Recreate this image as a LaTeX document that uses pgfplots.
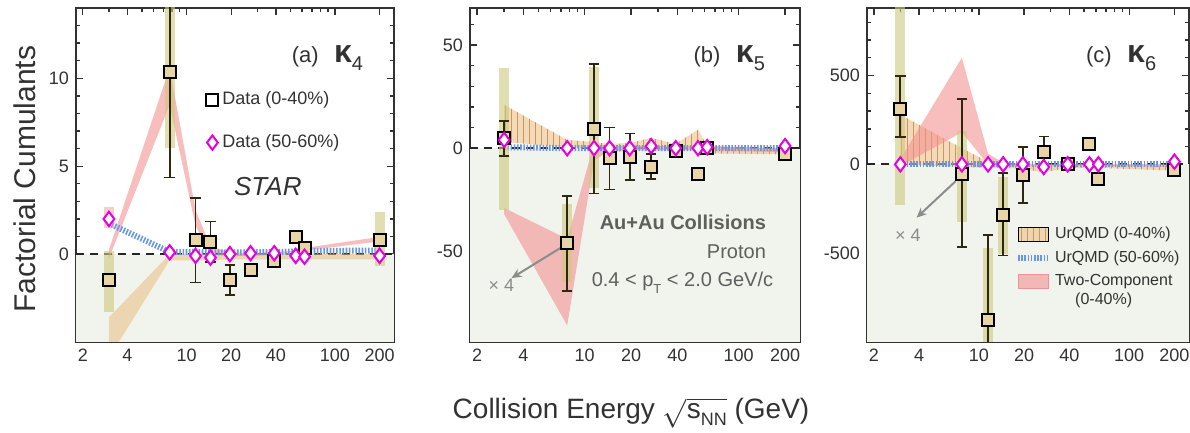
\documentclass[border=0pt]{standalone}
\usepackage{fontspec}
\setmainfont{Liberation Sans}
\usepackage{pgfplots}
\pgfplotsset{compat=1.18}
\usepackage{pgfplotstable}
\usetikzlibrary{patterns,arrows.meta}

\definecolor{txtc}{RGB}{50,50,50}
\definecolor{graytxt}{RGB}{95,95,95}
\definecolor{belowc}{RGB}{241,244,236}
\definecolor{tanc}{RGB}{232,188,130}
\definecolor{tanh}{RGB}{205,150,90}
\definecolor{pinkc}{RGB}{244,145,145}
\definecolor{bluec}{RGB}{105,150,230}
\definecolor{sysc}{RGB}{205,200,125}
\definecolor{sqfill}{RGB}{232,212,165}
\definecolor{errc}{RGB}{45,40,15}
\definecolor{magc}{RGB}{230,0,225}
\definecolor{arrc}{RGB}{140,140,140}

% ---------- kappa_4 ----------
\pgfplotstableread{
x y ep em
3 -1.47 0.3 0.3
7.7 10.36 6.0 6.0
11.5 0.79 2.4 2.4
14.5 0.70 1.15 1.15
19.6 -1.47 0.85 0.85
27 -0.9 0.35 0.35
39 -0.4 0.2 0.2
54.4 1.0 0.15 0.15
62.4 0.32 0.3 0.3
200 0.8 0.2 0.2
}\kAcen
\pgfplotstableread{
x y ep em
3 -1.47 1.67 1.83
7.7 10.36 6.0 4.3
200 0.8 1.6 1.5
}\kAsys
\pgfplotstableread{
x y
3 2.0
7.7 0.1
11.5 -0.1
14.5 -0.2
19.6 0.0
27 0.05
39 0.05
54.4 -0.1
62.4 -0.15
200 -0.1
}\kAper

% ---------- kappa_5 ----------
\pgfplotstableread{
x y ep em
3 4.7 8.5 8.5
7.7 -46.1 23 23
11.5 9.5 31.5 31.5
14.5 -5 15 15
19.6 -4.2 11.3 11.3
27 -9 6 6
39 -1.3 2 2
54.4 -12.3 1 1
62.4 0.3 2 2
200 -2.6 1.5 1.5
}\kBcen
\pgfplotstableread{
x y ep em
3 4.7 34 34.7
7.7 -46.1 19 19
11.5 9.5 30 29
}\kBsys
\pgfplotstableread{
x y
3 4
7.7 0
11.5 0
14.5 0
19.6 0
27 1
39 0
54.4 0
62.4 0.5
200 1
}\kBper

% ---------- kappa_6 ----------
\pgfplotstableread{
x y ep em
3 313 182 159
7.7 -55 424 410
11.5 -876 477 477
14.5 -287 236 226
19.6 -62 159 156
27 69 88 84
39 4 10 10
54.4 116 10 10
62.4 -80 15 15
200 -34 10 10
}\kCcen
\pgfplotstableread{
x y ep em
3 313 700 544
7.7 -55 245 269
11.5 -876 403 300
14.5 -287 217 219
}\kCsys
\pgfplotstableread{
x y
3 0
7.7 0
11.5 0
14.5 0
19.6 0
27 -15
39 0
54.4 0
62.4 0
200 15
}\kCper

\pgfplotsset{
  every axis/.append style={
    scale only axis, anchor=south west, height=167pt,
    axis line style={txtc, line width=0.9pt},
    tick style={txtc, line width=0.7pt},
    major tick length=3.6pt, minor tick length=2.2pt,
    tick align=inside,
    xtick={2,4,10,20,40,100,200}, xticklabels={2,4,10,20,40,100,200},
    minor xtick={3,5,6,7,8,9,30,50,60,70,80,90},
    ticklabel style={font=\fontsize{9}{9}\selectfont, text=txtc},
    legend style={draw=none, fill=none, text=txtc},
  },
  zeroline/.style={forget plot, black!85, line width=0.9pt, dash pattern=on 4pt off 3pt},
  tanband/.style={forget plot, draw=none, fill=tanc, fill opacity=0.55},
  tanhatch/.style={forget plot, draw=none, pattern=vertical lines, pattern color=tanh},
  pinkband/.style={forget plot, draw=none, fill=pinkc, fill opacity=0.6},
  blueline/.style={forget plot, bluec, line width=3pt, dash pattern=on 0.8pt off 0.8pt},
  sysbox/.style={forget plot, only marks, mark=none,
    error bars/.cd, y dir=both, y explicit,
    error bar style={line width=5pt, draw=sysc, draw opacity=0.6}, error mark=none},
  sqdata/.style={forget plot, only marks, mark=square*, mark size=3pt,
    mark options={draw=black, fill=sqfill, line width=1pt},
    error bars/.cd, y dir=both, y explicit,
    error bar style={errc, line width=0.9pt},
    error mark options={errc, line width=0.9pt, mark size=2.6pt, rotate=90}},
  perdata/.style={forget plot, only marks, mark=diamond*, mark size=3.6pt,
    mark options={draw=magc, fill=white, line width=1pt}},
}

\begin{document}
\begin{tikzpicture}
\path[use as bounding box] (0,0) rectangle (595pt,216.5pt);

% ================= (a) kappa_4 =================
\begin{axis}[at={(38pt,45.5pt)}, width=159pt,
  xmode=log, xmin=1.8, xmax=250,
  /pgf/number format/assume math mode=true,
  ymin=-5, ymax=14, ytick={0,5,10},
  minor ytick={-4,-3,-2,-1,1,2,3,4,6,7,8,9,11,12,13},
  legend style={at={(rel axis cs:0.39,0.775)}, anchor=north west,
    font=\fontsize{9}{9}\selectfont, row sep=9.5pt, legend cell align=left}]
\addlegendimage{only marks, mark=square, mark size=3pt, mark options={black, line width=1pt}}
\addlegendentry{Data (0-40\%)}
\addlegendimage{only marks, mark=diamond, mark size=3.6pt, mark options={magc, line width=1pt}}
\addlegendentry{Data (50-60\%)}
\addplot[forget plot, draw=none, fill=belowc] coordinates {(1.8,0) (250,0) (250,-5) (1.8,-5)};
\addplot[zeroline] coordinates {(1.8,0) (250,0)};
\addplot[tanband] coordinates {(3,-3.6) (7.7,0) (11.5,0) (14.5,0) (19.6,0) (27,0) (39,0) (54.4,0) (62.4,0) (200,0)
  (200,-0.3) (62.4,-0.3) (54.4,-0.3) (39,-0.3) (27,-0.3) (19.6,-0.3) (14.5,-0.35) (11.5,-0.35) (7.7,-0.35) (3,-5.9)};
\addplot[pinkband] coordinates {(3,0.25) (7.7,10.6) (11.5,2.5) (14.5,0.45) (19.6,0.1) (27,0.08) (39,0.1) (54.4,0.2) (62.4,0.35) (200,0.98)
  (200,0.72) (62.4,0.2) (54.4,0.05) (39,-0.05) (27,-0.1) (19.6,-0.1) (14.5,0.1) (11.5,1.6) (7.7,8.5) (3,-0.25)};
\addplot[blueline] coordinates {(3,1.75) (7.7,0.12) (11.5,0.12) (14.5,0.1) (19.6,0.1) (27,0.1) (39,0.12) (54.4,0.15) (62.4,0.18) (200,0.2)};
\addplot[sysbox] table[x=x, y=y, y error plus=ep, y error minus=em] {\kAsys};
\addplot[forget plot, only marks, mark=none, error bars/.cd, y dir=both, y explicit,
  error bar style={line width=5pt, draw=pinkc, draw opacity=0.45}, error mark=none]
  coordinates {(3,2.0) += (0,0.7) -= (0,0.5)};
\addplot[sqdata] table[x=x, y=y, y error plus=ep, y error minus=em] {\kAcen};
\addplot[perdata] table[x=x, y=y] {\kAper};
\node[anchor=east, text=txtc] at (rel axis cs:0.925,0.85)
  {\fontsize{11}{11}\selectfont (a)\hspace{0.7em}{\fontsize{16}{16}\selectfont\bfseries κ}\raisebox{-0.7ex}{\fontsize{10}{10}\selectfont 4}};
\node[anchor=west, text=txtc, font=\fontsize{13}{13}\selectfont\itshape] at (rel axis cs:0.475,0.464) {STAR};
\end{axis}

% ================= (b) kappa_5 =================
\begin{axis}[at={(235pt,45.5pt)}, width=165pt,
  xmode=log, xmin=1.8, xmax=250,
  /pgf/number format/assume math mode=true,
  ymin=-94, ymax=68, ytick={-50,0,50},
  minor ytick={-90,-80,-70,-60,-40,-30,-20,-10,10,20,30,40,60}]
\addplot[forget plot, draw=none, fill=belowc] coordinates {(1.8,0) (250,0) (250,-94) (1.8,-94)};
\addplot[zeroline] coordinates {(1.8,0) (250,0)};
\addplot[tanband] coordinates {(3,21) (7.7,4) (11.5,3) (14.5,2) (19.6,2.5) (27,5) (39,2) (54.4,9) (62.4,1) (200,-0.5)
  (200,-3) (62.4,-2.5) (54.4,0) (39,-1.5) (27,0.5) (19.6,-1.5) (14.5,-1.5) (11.5,-0.5) (7.7,0.5) (3,3)};
\addplot[tanhatch] coordinates {(3,21) (7.7,4) (11.5,3) (14.5,2) (19.6,2.5) (27,5) (39,2) (54.4,9) (62.4,1) (200,-0.5)
  (200,-3) (62.4,-2.5) (54.4,0) (39,-1.5) (27,0.5) (19.6,-1.5) (14.5,-1.5) (11.5,-0.5) (7.7,0.5) (3,3)};
\addplot[pinkband] coordinates {(3,-29) (7.7,-44) (11.5,2) (14.5,1) (19.6,1) (27,1) (39,1) (54.4,1) (62.4,1) (200,0)
  (200,-2) (62.4,-1) (54.4,-1) (39,-1) (27,-1) (19.6,-1) (14.5,-1) (11.5,-6) (7.7,-86) (3,-32)};
\addplot[blueline] coordinates {(3,0.5) (7.7,0) (11.5,0) (14.5,0) (19.6,0) (27,0) (39,0) (54.4,0) (62.4,0) (200,0)};
\addplot[sysbox] table[x=x, y=y, y error plus=ep, y error minus=em] {\kBsys};
\addplot[sqdata] table[x=x, y=y, y error plus=ep, y error minus=em] {\kBcen};
\addplot[perdata] table[x=x, y=y] {\kBper};
\draw[arrc, line width=1pt, -{Stealth[length=5pt,width=4.5pt]}] (axis cs:7.1,-48) -- (axis cs:3.35,-63);
\node[text=arrc, font=\fontsize{9}{9}\selectfont] at (rel axis cs:0.095,0.171) {× 4};
\node[anchor=east, text=txtc] at (rel axis cs:0.915,0.85)
  {\fontsize{11}{11}\selectfont (b)\hspace{0.7em}{\fontsize{16}{16}\selectfont\bfseries κ}\raisebox{-0.7ex}{\fontsize{10}{10}\selectfont 5}};
\node[anchor=east, text=graytxt, font=\fontsize{10}{10}\selectfont\bfseries] at (rel axis cs:0.918,0.359) {Au+Au Collisions};
\node[anchor=east, text=graytxt, font=\fontsize{10}{10}\selectfont] at (rel axis cs:0.918,0.269) {Proton};
\node[anchor=east, text=graytxt, font=\fontsize{10}{10}\selectfont] at (rel axis cs:0.94,0.177)
  {0.4 < p\raisebox{-0.6ex}{\fontsize{6.5}{6.5}\selectfont T} < 2.0 GeV/c};
\end{axis}

% ================= (c) kappa_6 =================
\begin{axis}[at={(433.5pt,45.5pt)}, width=161pt,
  xmode=log, xmin=1.8, xmax=250,
  /pgf/number format/assume math mode=true,
  ymin=-1000, ymax=880, ytick={-500,0,500},
  minor ytick={-900,-800,-700,-600,-400,-300,-200,-100,100,200,300,400,600,700,800},
  legend style={at={(rel axis cs:0.44,0.37)}, anchor=north west,
    font=\fontsize{8}{8}\selectfont, row sep=0.6pt, legend cell align=left}]
\addlegendimage{legend image code/.code={
  \fill[tanc, fill opacity=0.55] (0pt,-3.4pt) rectangle (15pt,3.4pt);
  \fill[pattern=vertical lines, pattern color=tanh] (0pt,-3.4pt) rectangle (15pt,3.4pt);}}
\addlegendentry{UrQMD (0-40\%)}
\addlegendimage{legend image code/.code={
  \draw[bluec, line width=3pt, dash pattern=on 0.8pt off 0.8pt] (0pt,0pt) -- (15pt,0pt);}}
\addlegendentry{UrQMD (50-60\%)}
\addlegendimage{legend image code/.code={
  \fill[pinkc, fill opacity=0.6] (0pt,-3.4pt) rectangle (15pt,3.4pt);}}
\addlegendentry{Two-Component}
\addplot[forget plot, draw=none, fill=belowc] coordinates {(1.8,0) (250,0) (250,-1000) (1.8,-1000)};
\addplot[zeroline] coordinates {(1.8,0) (250,0)};
\addplot[tanband] coordinates {(3,280) (7.7,90) (11.5,15) (14.5,0) (19.6,0) (27,-10) (39,0) (54.4,0) (62.4,0) (200,-10)
  (200,-35) (62.4,-20) (54.4,-20) (39,-20) (27,-45) (19.6,-25) (14.5,-20) (11.5,-20) (7.7,-15) (3,0)};
\addplot[tanhatch] coordinates {(3,280) (7.7,90) (11.5,15) (14.5,0) (19.6,0) (27,-10) (39,0) (54.4,0) (62.4,0) (200,-10)
  (200,-35) (62.4,-20) (54.4,-20) (39,-20) (27,-45) (19.6,-25) (14.5,-20) (11.5,-20) (7.7,-15) (3,0)};
\addplot[pinkband] coordinates {(3,30) (7.7,600) (11.5,60) (14.5,10) (19.6,5) (27,3) (39,3) (54.4,3) (62.4,3) (200,0)
  (200,-15) (62.4,-10) (54.4,-10) (39,-10) (27,-10) (19.6,-10) (14.5,-8) (11.5,0) (7.7,180) (3,-10)};
\addplot[blueline] coordinates {(3,0) (7.7,0) (11.5,0) (14.5,0) (19.6,0) (27,0) (39,0) (54.4,0) (62.4,0) (200,0)};
\addplot[sysbox] table[x=x, y=y, y error plus=ep, y error minus=em] {\kCsys};
\addplot[sqdata] table[x=x, y=y, y error plus=ep, y error minus=em] {\kCcen};
\addplot[perdata] table[x=x, y=y] {\kCper};
\draw[arrc, line width=1pt, -{Stealth[length=5pt,width=4.5pt]}] (axis cs:7.0,-95) -- (axis cs:3.85,-300);
\node[text=arrc, font=\fontsize{9}{9}\selectfont] at (rel axis cs:0.127,0.32) {× 4};
\node[anchor=east, text=txtc] at (rel axis cs:0.92,0.85)
  {\fontsize{11}{11}\selectfont (c)\hspace{0.7em}{\fontsize{16}{16}\selectfont\bfseries κ}\raisebox{-0.7ex}{\fontsize{10}{10}\selectfont 6}};
\node[text=txtc, font=\fontsize{8}{8}\selectfont] at (rel axis cs:0.735,0.125) {(0-40\%)};
\end{axis}

% shared axis titles
\node[rotate=90, text=txtc, font=\fontsize{15}{15}\selectfont] at (12.5pt,127pt) {Factorial Cumulants};
\node[text=txtc, font=\fontsize{14}{14}\selectfont] at (315.5pt,10pt)
  {Collision Energy $\sqrt{\mbox{s\raisebox{-0.45ex}{\fontsize{9}{9}\selectfont NN}}}$ (GeV)};
\end{tikzpicture}
\end{document}
